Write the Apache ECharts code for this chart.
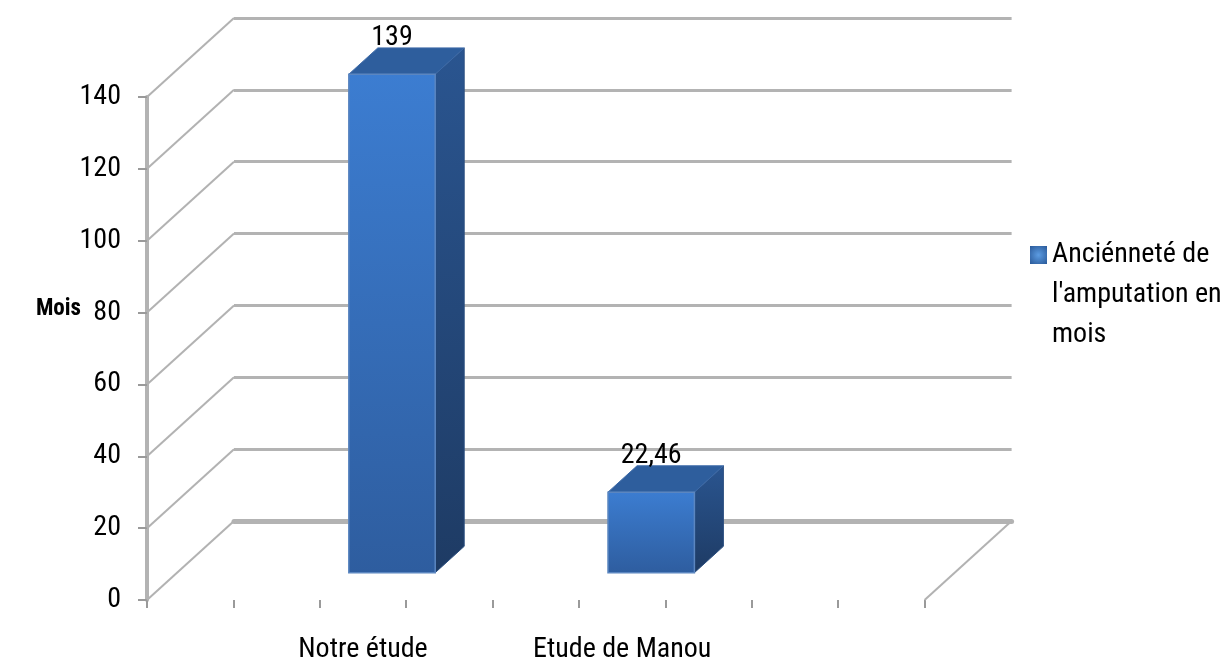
<!DOCTYPE html>
<html>
<head>
<meta charset="utf-8">
<script src="https://cdn.jsdelivr.net/npm/echarts@6/dist/echarts.min.js"></script>
<style>
  html, body { margin: 0; padding: 0; background: #ffffff; }
  #chart { width: 1226px; height: 664px; }
</style>
</head>
<body>
<div id="chart"></div>
<script>
// ---- data ----
const categories = ['Notre étude', 'Etude de Manou'];
const values = [139, 22.46];
const seriesName = "Anciénneté de l'amputation en mois";
const axisTitle = 'Mois';
const yTicks = [0, 20, 40, 60, 80, 100, 120, 140];
const yMax = 140;
const yStep = 20;
const floorSlots = 9;          // tick intervals along the floor's front edge

// ---- text: condensed Roboto ----
const FONT = 'Roboto, "Liberation Sans", Arial, sans-serif';
const FW = 'normal condensed';
const FWB = 'bold condensed';
const FS = 28;

// ---- layout of the pseudo-3D box ----
const FL = 147;                // front-left corner x
const FB = 600;                // floor front edge y
const FT = 97;                 // y of yMax on the front plane
const UNIT = 86.4;             // width of one floor slot
const DX = 87, DY = -79;       // depth offset (front plane -> back wall)
const BAR_D0 = 1 / 3, BAR_D1 = 2 / 3;   // bars occupy the middle third of depth
const GRID_LINE = '#b3b3b3';
const TICK = '#9a9a9a';

const frontGrad = new echarts.graphic.LinearGradient(0, 0, 0, 1, [
  { offset: 0, color: '#3c7dd1' },
  { offset: 1, color: '#2e5d9f' }
]);
const sideGrad = new echarts.graphic.LinearGradient(0, 0, 0, 1, [
  { offset: 0, color: '#2a5590' },
  { offset: 1, color: '#1e3b64' }
]);
const markerGrad = new echarts.graphic.RadialGradient(0.5, 0.5, 0.7, [
  { offset: 0, color: '#5c9ce2' },
  { offset: 1, color: '#2b5b9b' }
]);

// wrap a legend name into short lines; two blank lines first keep
// the first line level with the legend marker
function wrapLegend(name) {
  const words = name.split(' ');
  const lines = [];
  let cur = '';
  words.forEach(w => {
    const next = cur ? cur + ' ' + w : w;
    if (next.length > 15 && cur) { lines.push(cur); cur = w; } else { cur = next; }
  });
  if (cur) lines.push(cur);
  return '\n\n' + lines.join('\n');
}

const chart = echarts.init(document.getElementById('chart'), null, { renderer: 'canvas' });

const plotH = FB - FT;
// the axis title sits at the vertical centre of the whole box (back wall
// top to floor front): two trailing empty lines of half the depth rise
// each lift it above the front axis' midpoint
const titleLineH = -DY / 2;

const option = {
  backgroundColor: '#ffffff',
  animation: false,
  grid: [
    // front plane (axis, floor ticks)
    { left: FL, top: FT, width: UNIT * floorSlots, height: plotH },
    // category band used to place the bars
    { left: FL + UNIT, top: FT, width: UNIT * 6, height: plotH },
    // back wall
    { left: FL + DX, top: FT + DY, width: UNIT * floorSlots, height: plotH }
  ],
  xAxis: [
    {
      gridIndex: 0, type: 'value', min: 0, max: floorSlots, interval: 1,
      axisLine: { show: false },
      axisTick: { show: true, length: 8, lineStyle: { color: TICK, width: 2 } },
      axisLabel: { show: false },
      splitLine: { show: false }
    },
    {
      gridIndex: 1, type: 'category',
      data: categories,
      axisLine: { show: false },
      axisTick: { show: false },
      axisLabel: { margin: 37, fontSize: FS, fontWeight: FW, color: '#000', fontFamily: FONT, interval: 0 },
      splitLine: { show: false }
    },
    {
      gridIndex: 2, type: 'value', min: 0, max: floorSlots,
      axisLine: { show: true, lineStyle: { color: GRID_LINE, width: 5 } },
      axisTick: { show: false },
      axisLabel: { show: false },
      splitLine: { show: false }
    }
  ],
  yAxis: [
    {
      gridIndex: 0, type: 'value', min: 0, max: yMax, interval: yStep,
      name: axisTitle + '\n\n', nameLocation: 'middle', nameRotate: 0, nameGap: 66,
      nameMoveOverlap: false,
      nameTextStyle: {
        fontSize: 23, fontWeight: FWB, color: '#000', fontFamily: FONT,
        align: 'right', verticalAlign: 'middle', lineHeight: titleLineH
      },
      axisLine: { show: true, lineStyle: { color: GRID_LINE, width: 4 } },
      axisTick: { show: true, length: 9, lineStyle: { color: TICK, width: 2 } },
      axisLabel: { margin: 26, fontSize: FS, fontWeight: FW, color: '#000', fontFamily: FONT },
      splitLine: { show: false }
    },
    {
      gridIndex: 1, type: 'value', min: 0, max: yMax, interval: yStep,
      axisLine: { show: false }, axisTick: { show: false },
      axisLabel: { show: false }, splitLine: { show: false }
    },
    {
      gridIndex: 2, type: 'value', min: 0, max: yMax, interval: yStep,
      axisLine: { show: false }, axisTick: { show: false },
      axisLabel: { show: false },
      splitLine: { show: true, lineStyle: { color: GRID_LINE, width: 3 } }
    }
  ],
  legend: {
    orient: 'vertical',
    left: 1030,
    top: 155,
    padding: 0,
    itemWidth: 17,
    itemHeight: 18,
    data: [{ name: seriesName, icon: 'rect', itemStyle: { color: markerGrad } }],
    formatter: wrapLegend,
    textStyle: { fontSize: FS, fontWeight: FW, color: '#000', fontFamily: FONT, lineHeight: 40 }
  },
  series: [
    // left wall and floor edge diagonals
    {
      type: 'custom',
      name: 'walls',
      xAxisIndex: 0, yAxisIndex: 0,
      silent: true,
      z: 1,
      data: yTicks.map(v => [0, v]).concat([[floorSlots, 0]]),
      renderItem: function (params, api) {
        const p = api.coord([api.value(0), api.value(1)]);
        return {
          type: 'line',
          shape: { x1: p[0], y1: p[1], x2: p[0] + DX, y2: p[1] + DY },
          style: { stroke: '#b2b2b2', lineWidth: 2 }
        };
      }
    },
    // 3D bars
    {
      type: 'custom',
      name: seriesName,
      xAxisIndex: 1, yAxisIndex: 1,
      z: 5,
      itemStyle: { color: frontGrad },
      data: values.map((v, i) => [i, v]),
      renderItem: function (params, api) {
        const base = api.coord([api.value(0), 0]);
        const top = api.coord([api.value(0), api.value(1)]);
        const bw = api.size([1, 0])[0] / 3;
        const x0 = base[0] - bw / 2, x1 = base[0] + bw / 2;
        const fdx = DX * BAR_D0, fdy = DY * BAR_D0;
        const bdx = DX * BAR_D1, bdy = DY * BAR_D1;
        const yb = base[1], yt = top[1];
        const txt = String(api.value(1)).replace('.', ',');
        return {
          type: 'group',
          children: [
            {
              type: 'polygon',
              shape: { points: [[x1 + fdx, yt + fdy], [x1 + bdx, yt + bdy], [x1 + bdx, yb + bdy], [x1 + fdx, yb + fdy]] },
              style: { fill: sideGrad, stroke: '#2b4f80', lineWidth: 1 }
            },
            {
              type: 'polygon',
              shape: { points: [[x0 + fdx, yt + fdy], [x0 + bdx, yt + bdy], [x1 + bdx, yt + bdy], [x1 + fdx, yt + fdy]] },
              style: { fill: '#2e5e9d', stroke: '#3d6aa8', lineWidth: 1 }
            },
            {
              type: 'rect',
              shape: { x: x0 + fdx, y: yt + fdy, width: bw, height: yb - yt },
              style: { fill: frontGrad, stroke: '#5b86c0', lineWidth: 1.5 }
            },
            {
              type: 'text',
              style: {
                text: txt,
                x: base[0] + fdx,
                y: yt + bdy + 4,
                align: 'center', verticalAlign: 'bottom',
                fontSize: FS, fontWeight: FW, fontFamily: FONT, fill: '#000'
              }
            }
          ]
        };
      }
    }
  ]
};

chart.setOption(option);
</script>
</body>
</html>
